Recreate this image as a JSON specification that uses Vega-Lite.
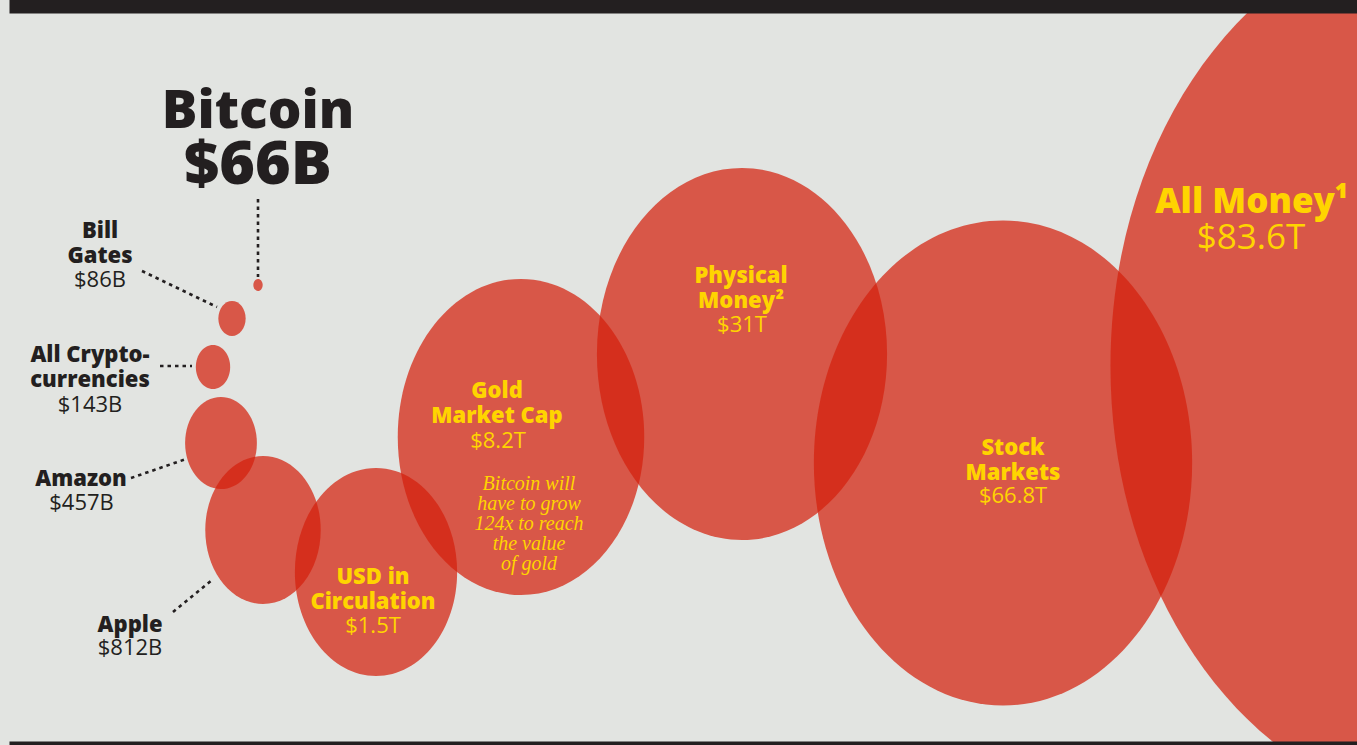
{
  "$schema": "https://vega.github.io/schema/vega-lite/v6.json",
  "width": 1357,
  "height": 745,
  "autosize": {"type": "none"},
  "padding": 0,
  "background": "#e2e4e1",
  "config": {"view": {"stroke": null}},
  "data": {"values": [
    {"order": 1, "name": "Bitcoin", "value": 66, "label": "$66B"},
    {"order": 2, "name": "Bill\nGates", "value": 86, "label": "$86B"},
    {"order": 3, "name": "All Crypto-\ncurrencies", "value": 143, "label": "$143B"},
    {"order": 4, "name": "Amazon", "value": 457, "label": "$457B"},
    {"order": 5, "name": "Apple", "value": 812, "label": "$812B"},
    {"order": 6, "name": "USD in\nCirculation", "value": 1500, "label": "$1.5T"},
    {"order": 7, "name": "Gold\nMarket Cap", "value": 8200, "label": "$8.2T", "note": "Bitcoin will\nhave to grow\n124x to reach\nthe value\nof gold"},
    {"order": 8, "name": "Physical\nMoney²", "value": 31000, "label": "$31T"},
    {"order": 9, "name": "Stock\nMarkets", "value": 66800, "label": "$66.8T"},
    {"order": 10, "name": "All Money¹", "value": 83600, "label": "$83.6T"}
  ]},
  "resolve": {"scale": {"x": "independent", "y": "independent", "size": "independent", "color": "independent"}},
  "layer": [
    {
      "mark": {"type": "point", "opacity": 0},
      "encoding": {
        "x": {"field": "value", "type": "quantitative",
              "scale": {"domain": [66, 83600], "range": [9, 1357], "nice": false, "zero": false},
              "axis": {"orient": "top", "domain": true, "domainWidth": 26, "domainColor": "#231f20", "domainCap": "butt", "ticks": false, "labels": false, "grid": false, "title": null, "zindex": 2}}
      }
    },
    {
      "mark": {"type": "point", "opacity": 0},
      "encoding": {
        "x": {"field": "value", "type": "quantitative",
              "scale": {"domain": [66, 83600], "range": [9, 1357], "nice": false, "zero": false},
              "axis": {"orient": "bottom", "domain": true, "domainWidth": 8, "domainColor": "#231f20", "domainCap": "butt", "ticks": false, "labels": false, "grid": false, "title": null, "zindex": 2}}
      }
    },
    {
      "mark": {"type": "point", "filled": true, "shape": "M0,-1C0.4308,-1 0.78,-0.5523 0.78,0C0.78,0.5523 0.4308,1 0,1C-0.4308,1 -0.78,0.5523 -0.78,0C-0.78,-0.5523 -0.4308,-1 0,-1Z", "fill": "#d4200d", "opacity": 0.72, "strokeWidth": 0},
      "encoding": {
        "x": {"field": "value", "type": "quantitative",
              "scale": {"domain": [66, 86, 143, 457, 812, 1500, 8200, 31000, 66800, 83600], "range": [258, 232, 213, 221, 263, 376, 521, 742, 1003, 1456], "nice": false, "zero": false},
              "axis": null},
        "y": {"field": "value", "type": "quantitative",
              "scale": {"domain": [66, 86, 143, 457, 812, 1500, 8200, 31000, 66800, 83600], "range": [285, 318.5, 367, 443, 530, 572, 437, 354, 463, 366], "nice": false, "zero": false},
              "axis": null},
        "size": {"field": "value", "type": "quantitative",
                 "scale": {"domain": [66, 86, 143, 457, 812, 1500, 8200, 31000, 66800, 83600], "range": [144, 1225, 1936, 8464, 21904, 43264, 99856, 138384, 235225, 784996], "nice": false, "zero": false},
                 "legend": null}
      }
    },
    {
      "transform": [{"filter": "datum.order <= 5"}],
      "mark": {"type": "rule", "color": "#231f20", "strokeWidth": 2.6, "strokeDash": [3.5, 4]},
      "encoding": {
        "x": {"field": "order", "type": "quantitative",
              "scale": {"domain": [1, 2, 3, 4, 5, 66, 86, 143, 457, 812], "range": [258, 142, 160, 131, 173, 258, 217, 192, 186, 212], "nice": false, "zero": false},
              "axis": null},
        "x2": {"field": "value"},
        "y": {"field": "order", "type": "quantitative",
              "scale": {"domain": [1, 2, 3, 4, 5, 66, 86, 143, 457, 812], "range": [199, 271, 366, 478, 612, 277, 307, 366, 459, 580], "nice": false, "zero": false},
              "axis": null},
        "y2": {"field": "value"}
      }
    },
    {
      "mark": {"type": "text", "font": "Open Sans", "fontWeight": 800, "align": "center", "baseline": "alphabetic", "lineBreak": "\n", "lineHeight": 24.5},
      "encoding": {
        "text": {"field": "name"},
        "x": {"field": "value", "type": "quantitative",
              "scale": {"domain": [66, 86, 143, 457, 812, 1500, 8200, 31000, 66800, 83600], "range": [258, 100, 90, 81, 130, 373, 497, 741, 1013, 1252], "nice": false, "zero": false},
              "axis": null},
        "y": {"field": "value", "type": "quantitative",
              "scale": {"domain": [66, 86, 143, 457, 812, 1500, 8200, 31000, 66800, 83600], "range": [128, 238, 362, 486, 632, 584, 398, 283, 455, 213], "nice": false, "zero": false},
              "axis": null},
        "size": {"field": "value", "type": "quantitative",
                 "scale": {"type": "threshold", "domain": [70, 80000], "range": [53, 22, 35]},
                 "legend": null},
        "color": {"field": "value", "type": "quantitative",
                  "scale": {"type": "threshold", "domain": [1000], "range": ["#231f20", "#ffd400"]},
                  "legend": null}
      }
    },
    {
      "transform": [{"filter": "datum.value > 70"}],
      "mark": {"type": "text", "font": "Open Sans", "fontWeight": "normal", "align": "center", "baseline": "alphabetic"},
      "encoding": {
        "text": {"field": "label"},
        "x": {"field": "value", "type": "quantitative",
              "scale": {"domain": [86, 143, 457, 812, 1500, 8200, 31000, 66800, 83600], "range": [100, 90, 81.5, 130, 373, 498, 742, 1013, 1251], "nice": false, "zero": false},
              "axis": null},
        "y": {"field": "value", "type": "quantitative",
              "scale": {"domain": [86, 143, 457, 812, 1500, 8200, 31000, 66800, 83600], "range": [287, 412, 510, 655, 633, 448, 332, 503, 249], "nice": false, "zero": false},
              "axis": null},
        "size": {"field": "value", "type": "quantitative",
                 "scale": {"type": "threshold", "domain": [80000], "range": [22, 35]},
                 "legend": null},
        "color": {"field": "value", "type": "quantitative",
                  "scale": {"type": "threshold", "domain": [1000], "range": ["#231f20", "#ffd400"]},
                  "legend": null}
      }
    },
    {
      "transform": [{"filter": "datum.value < 70"}],
      "mark": {"type": "text", "font": "Open Sans", "fontWeight": 800, "fontSize": 61, "align": "center", "baseline": "alphabetic", "color": "#231f20"},
      "encoding": {
        "text": {"field": "label"},
        "x": {"field": "value", "type": "quantitative",
              "scale": {"domain": [0, 66], "range": [0, 258], "nice": false, "zero": false},
              "axis": null},
        "y": {"field": "value", "type": "quantitative",
              "scale": {"domain": [0, 66], "range": [0, 184], "nice": false, "zero": false},
              "axis": null}
      }
    },
    {
      "transform": [{"filter": "isValid(datum.note)"}],
      "mark": {"type": "text", "font": "Liberation Serif", "fontStyle": "italic", "fontSize": 20, "lineHeight": 20, "lineBreak": "\n", "align": "center", "baseline": "alphabetic", "color": "#ffd400"},
      "encoding": {
        "text": {"field": "note"},
        "x": {"field": "value", "type": "quantitative",
              "scale": {"domain": [0, 8200], "range": [0, 529], "nice": false, "zero": false},
              "axis": null},
        "y": {"field": "value", "type": "quantitative",
              "scale": {"domain": [0, 8200], "range": [0, 490], "nice": false, "zero": false},
              "axis": null}
      }
    }
  ]
}
